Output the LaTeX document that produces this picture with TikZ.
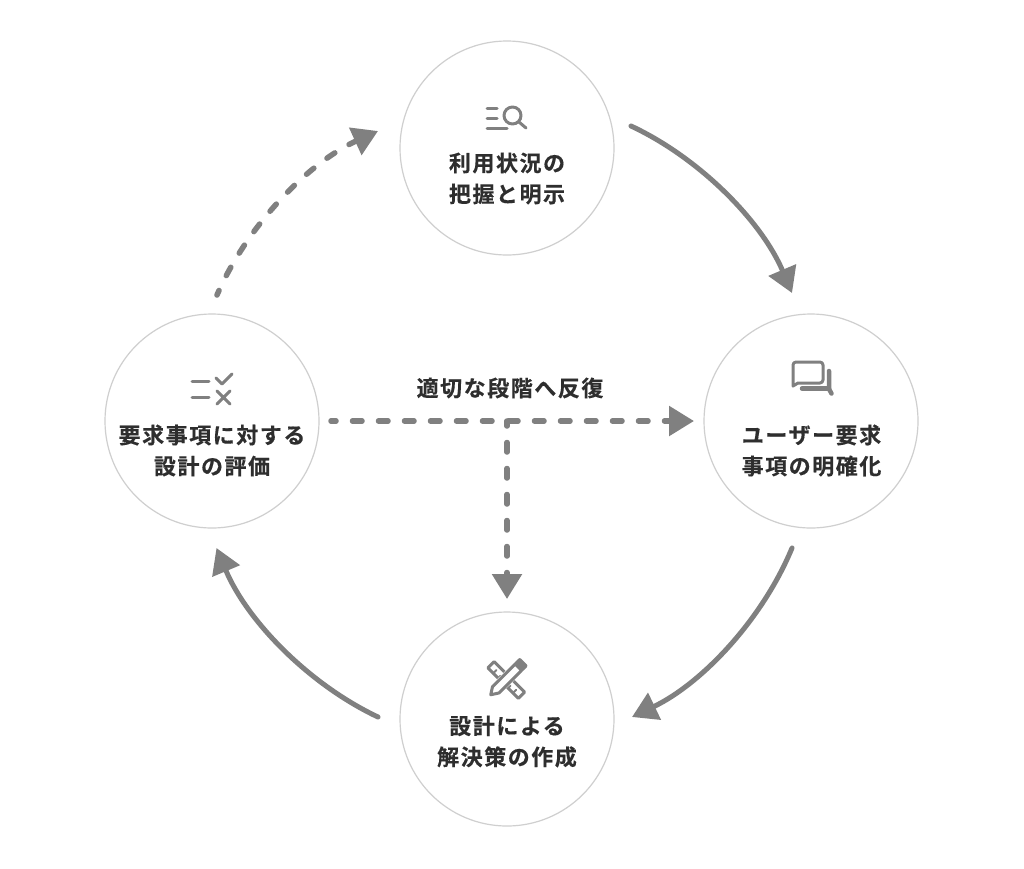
\documentclass[tikz,border=0pt]{standalone}
\usepackage{fontspec}
\newfontfamily\jpfont[LetterSpace=7,FakeBold=0.35]{Noto Sans CJK JP Bold}
\usetikzlibrary{arrows.meta}
\definecolor{linegray}{HTML}{808080}
\definecolor{ringgray}{HTML}{CFCFCF}
\definecolor{inkgray}{HTML}{2E2E2E}
\tikzset{
  x=1pt,y=-1pt,
  ring/.style={circle,draw=ringgray,line width=1.2pt,minimum size=214pt,inner sep=0pt},
  caption/.style={align=center,text=inkgray,inner sep=0pt,font=\fontsize{22}{31}\selectfont\jpfont},
  solidarrow/.style={draw=linegray,line width=5pt,line cap=round,-{Triangle[length=25pt,width=29pt]}},
  dasharrow/.style={solidarrow,line width=5.5pt,dash pattern=on 9.5pt off 16.5pt,dash phase=4.5pt},
  curved/.style={bend left=21,looseness=0.85},
  ico/.style={draw=linegray,line width=3pt,line cap=round,line join=round},
}
\begin{document}
\begin{tikzpicture}
\useasboundingbox (0,0) rectangle (1024,868);
\fill[white] (0,0) rectangle (1024,868);
% circles
\node[ring] (top) at (507,148) {};
\node[ring] (right) at (811,421) {};
\node[ring] (bottom) at (507,719) {};
\node[ring] (left) at (212,421) {};
% captions
\node[caption] (toptext) at (507,178.5) {利用状況の\\把握と明示};
\node[caption] (righttext) at (811.5,450.5) {ユーザー要求\\事項の明確化};
\node[caption] (bottomtext) at (507,741.5) {設計による\\解決策の作成};
\node[caption] (lefttext) at (212,450.5) {要求事項に対する\\設計の評価};
\node[caption] (looptext) at (510,388) {適切な段階へ反復};
% connector ends
\coordinate (a1) at (631,126); \coordinate (a2) at (792,293);
\coordinate (b1) at (792,548); \coordinate (b2) at (632,717);
\coordinate (c1) at (378,717); \coordinate (c2) at (216.5,548);
\coordinate (d1) at (217,295); \coordinate (d2) at (378,131);
\coordinate (e1) at (331,421); \coordinate (e2) at (694,421);
\coordinate (f1) at (507,421); \coordinate (f2) at (507,599);
\draw[solidarrow] (a1) to[curved] (a2);
\draw[solidarrow] (b1) to[curved] (b2);
\draw[solidarrow] (c1) to[curved] (c2);
\draw[dasharrow] (d1) to[curved] (d2);
\draw[dasharrow] (e1) -- (e2);
\draw[dasharrow] (f1) -- (f2);
% icon: list + magnifier
\draw[ico] (487,108) -- (497,108) (487,118) -- (497,118) (487,128) -- (507,128);
\draw[ico] (512.5,115.5) circle (8.5);
\draw[ico] (519,122) -- (526,128);
% icon: speech bubbles
\draw[ico] (793,386) -- (793,365) arc[start angle=180,end angle=270,radius=3] -- (820,362) arc[start angle=-90,end angle=0,radius=3] -- (823,380) arc[start angle=0,end angle=90,radius=3] -- (798,383) -- cycle;
\draw[ico,line width=4.5pt] (802,388.5) -- (829,388.5);
\draw[ico,line width=4.5pt] (829,371) -- (829,389) -- (831.5,393.5);
% icon: ruler + pencil
\begin{scope}[shift={(506.25,680)},rotate=-45]
  \draw[ico] (-21.5,-4.5) rectangle (21.5,4.5);
  \draw[ico,line width=2pt] (-14,4.5) -- (-14,0) (-7,4.5) -- (-7,1) (7,4.5) -- (7,1) (14,4.5) -- (14,0);
\end{scope}
\begin{scope}[shift={(507,678.5)},rotate=45]
  \fill[white] (-17,-6.5) -- (-25,0) -- (-17,6.5) -- (20,6.5) -- (20,-6.5) -- cycle;
  \draw[ico] (-16,-4.5) -- (-23,0) -- (-16,4.5) -- (16,4.5) -- (16,-4.5) -- cycle;
  \fill[linegray,rounded corners=2pt] (15,-6) rectangle (24,6);
\end{scope}
% icon: check + cross
\draw[ico] (192,381) -- (209,381) (192,397) -- (209,397);
\draw[ico] (216,378) -- (222,384) -- (232,374);
\draw[ico] (217,391) -- (230,404) (230,391) -- (217,404);
\end{tikzpicture}
\end{document}
